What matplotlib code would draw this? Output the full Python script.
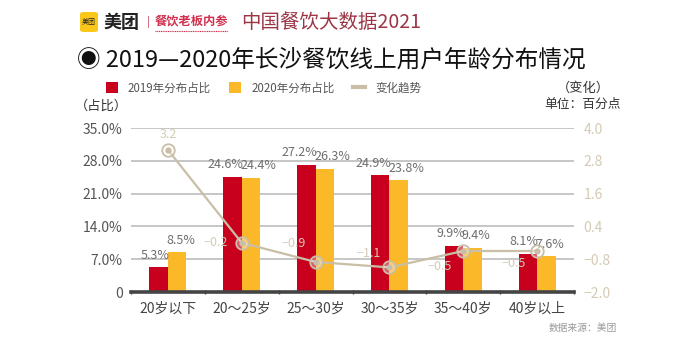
import matplotlib
matplotlib.use("Agg")
import matplotlib.pyplot as plt
from matplotlib.patches import FancyBboxPatch, Patch
from matplotlib.lines import Line2D
import numpy as np

plt.rcParams['font.family'] = ['Noto Sans CJK SC', 'DejaVu Sans']
plt.rcParams['axes.unicode_minus'] = True

categories = ["20岁以下", "20～25岁", "25～30岁", "30～35岁", "35～40岁", "40岁以上"]
share_2019 = [5.3, 24.6, 27.2, 24.9, 9.9, 8.1]
share_2020 = [8.5, 24.4, 26.3, 23.8, 9.4, 7.6]
change = [3.2, -0.2, -0.9, -1.1, -0.5, -0.5]
left_ticks = [0, 7, 14, 21, 28, 35]
left_tick_labels = ["0", "7.0%", "14.0%", "21.0%", "28.0%", "35.0%"]
right_ticks = [-2.0, -0.8, 0.4, 1.6, 2.8, 4.0]

RED = "#c8001e"
YELLOW = "#fbb829"
TAN = "#c9bfa6"
TAN_TEXT = "#d4cbb5"

# offsets (points) of the trend labels relative to their markers
change_label_offsets = [(0, 11), (-19, 0), (-16, 13), (-15, 10), (-17, -11), (-17, -9)]

W, H = 700, 347
fig = plt.figure(figsize=(7.0, 3.47), dpi=100)
fig.patch.set_facecolor("white")


def fx(px):
    return px / W


def fy(py):
    return 1 - py / H


ax = fig.add_axes([fx(131), fy(292), fx(574) - fx(131), fy(128) - fy(292)])
x = np.arange(len(categories))
bw = 0.25

ax.bar(x - bw / 2, share_2019, bw, color=RED, zorder=3)
ax.bar(x + bw / 2, share_2020, bw, color=YELLOW, zorder=3)
# red labels end at the group centre, yellow labels start there
for xi, v in zip(x, share_2019):
    ax.annotate(f"{v:.1f}%", (xi, v), xytext=(1, 4), textcoords="offset points",
                ha="right", va="bottom", fontsize=9, color="#6e6e6e", zorder=5)
for xi, v in zip(x, share_2020):
    ax.annotate(f"{v:.1f}%", (xi, v), xytext=(-1, 4), textcoords="offset points",
                ha="left", va="bottom", fontsize=9, color="#6e6e6e", zorder=5)

ax.set_xlim(-0.5, len(categories) - 0.5)
ax.set_ylim(0, 35)
ax.set_yticks(left_ticks)
ax.set_yticklabels(left_tick_labels)
ax.set_xticks(x)
ax.set_xticklabels(categories)
ax.set_xticks(np.arange(len(categories) + 1) - 0.5, minor=True)
ax.tick_params(axis="y", length=0, pad=6, labelsize=10, labelcolor="#555555")
ax.tick_params(axis="x", which="major", length=0, pad=7, labelsize=10, labelcolor="#444444")
ax.tick_params(axis="x", which="minor", length=3, width=1, color="#444444", direction="inout")
ax.grid(axis="y", color="#c2c2c2", linewidth=1.3, zorder=0)
for s in ("top", "left", "right"):
    ax.spines[s].set_visible(False)
ax.spines["bottom"].set_linewidth(2.6)
ax.spines["bottom"].set_color("#444444")
ax.spines["bottom"].set_zorder(6)

ax2 = ax.twinx()
ax2.set_ylim(-2.0, 4.0)
ax2.set_yticks(right_ticks)
ax2.set_yticklabels([f"{t:.1f}".replace("-", "−") for t in right_ticks])
ax2.tick_params(axis="y", length=0, pad=7, labelsize=10, labelcolor=TAN_TEXT)
for s in ax2.spines.values():
    s.set_visible(False)
ax2.plot(x, change, color=TAN, linewidth=1.6, marker="o", markersize=9,
         markerfacecolor=(1, 1, 1, 0.35), markeredgecolor=TAN, markeredgewidth=1.3, zorder=4)
ax2.plot(x, change, linestyle="none", marker="o", markersize=3.5, color=TAN, zorder=5)
for xi, v, off in zip(x, change, change_label_offsets):
    ax2.annotate(f"{v:.1f}".replace("-", "−"), (xi, v), xytext=off, textcoords="offset points",
                 ha="center", va="center", fontsize=9, color=TAN_TEXT, zorder=6)

# header
logo = FancyBboxPatch((fx(80), fy(32)), fx(98) - fx(80), fy(12) - fy(32),
                      boxstyle="round,pad=0,rounding_size=0.006", transform=fig.transFigure,
                      facecolor="#f8c71a", edgecolor="none")
fig.add_artist(logo)
fig.text(fx(89), fy(22), "美团", fontsize=5, ha="center", va="center", color="#222222")
fig.text(fx(104), fy(22), "美团", fontsize=13, ha="left", va="center", color="#222222", weight="bold")
fig.text(fx(148), fy(22), "|", fontsize=8, ha="center", va="center", color="#c9445a")
fig.text(fx(155), fy(21), "餐饮老板内参", fontsize=8.8, ha="left", va="center", color="#d0304e", weight="bold")
fig.add_artist(Line2D([fx(155), fx(228)], [fy(31), fy(31)], transform=fig.transFigure,
                      color="#d0304e", linewidth=0.8, linestyle=(0, (1, 0.6))))
fig.text(fx(241), fy(22), "中国餐饮大数据2021", fontsize=14, ha="left", va="center", color="#9c3545")

fig.text(fx(77), fy(60), "◉ 2019—2020年长沙餐饮线上用户年龄分布情况", fontsize=17,
         ha="left", va="center", color="#111111")

handles = [Patch(facecolor=RED), Patch(facecolor=YELLOW), Line2D([0], [0], color=TAN, linewidth=3)]
fig.legend(handles, ["2019年分布占比", "2020年分布占比", "变化趋势"], ncol=3, frameon=False,
           loc="center left", bbox_to_anchor=(fx(106), fy(88)), fontsize=8.3,
           handlelength=1.0, handleheight=1.0, handletextpad=0.9, columnspacing=1.6,
           labelcolor="#555555", borderaxespad=0, borderpad=0)

fig.text(fx(101), fy(106), "（占比）", fontsize=9.5, ha="center", va="center", color="#333333")
fig.text(fx(583), fy(88), "（变化）", fontsize=9.5, ha="center", va="center", color="#333333")
fig.text(fx(583), fy(104), "单位：百分点", fontsize=9.2, ha="center", va="center", color="#333333")
fig.text(fx(617), fy(328), "数据来源：美团", fontsize=7, ha="right", va="center", color="#999999")

fig.savefig("out.png", dpi=100)
